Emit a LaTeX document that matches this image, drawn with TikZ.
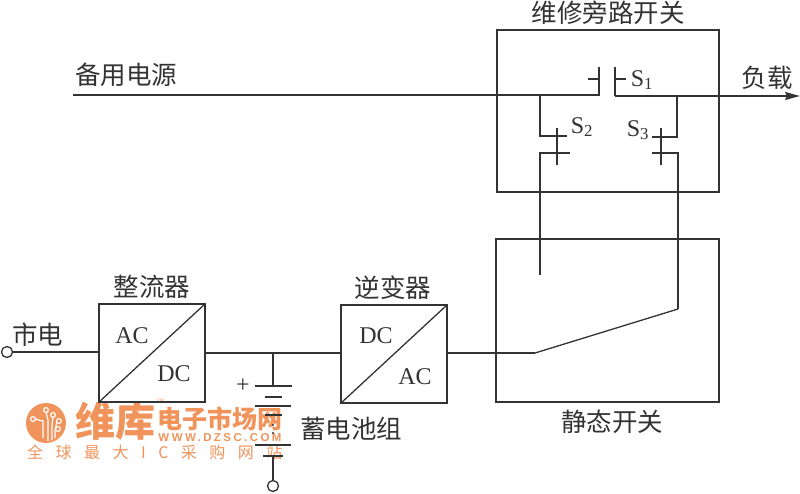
\documentclass[tikz,border=0pt]{standalone}
\usepackage{fontspec}
\setmainfont{Liberation Serif}
\newfontfamily\cjk{Noto Sans CJK SC}
\newfontfamily\cjkmark[LetterSpace=78]{Noto Sans CJK SC}
\newfontfamily\latinmark[LetterSpace=21]{Liberation Sans}
\usetikzlibrary{arrows.meta, positioning, calc}
\definecolor{inkgray}{HTML}{333333}
\definecolor{wmorange}{HTML}{F0945C}

\begin{document}
\begin{tikzpicture}[
  x=1pt, y=-1pt,
  >={Stealth[length=15pt, width=8pt, inset=2pt]},
  wire/.style={draw=inkgray, line width=1.3pt},
  box/.style={draw=inkgray, line width=1.3pt, minimum width=#1, anchor=center, inner sep=0pt},
  conv/.style={box=106pt, minimum height=98pt},
  lbl/.style={font=\cjk\fontsize{25.5}{26}\selectfont, text=inkgray, inner sep=0pt},
  sym/.style={font=\fontsize{24}{24}\selectfont, text=inkgray, inner sep=0pt},
  term/.style={circle, draw=inkgray, line width=1.3pt, fill=white, minimum size=11pt, inner sep=0pt},
  wm/.style={text=wmorange, inner sep=0pt},
  trace/.style={white, line width=1.2pt},
]

% Background canvas
\useasboundingbox (0,0) rectangle (800,493);

% === Watermark (under the drawing) ===
\node[circle, fill=wmorange, minimum size=40pt, inner sep=0pt] (logo) at (46,423) {};
\draw[trace] (35,419) -- (43,421) -- (43,438);
\draw[trace] (46,412) -- (48,420) -- (48,441);
\draw[trace] (53,417) -- (52,425) -- (52,440);
\draw[trace] (57,422) -- (55,430) -- (55,438);
\foreach \px/\py in {33/419, 46/410, 53/415, 59/421, 58/429} {
  \draw[trace, fill=wmorange] (\px,\py) circle (2.4pt);
}
\node[wm, font=\cjk\bfseries\fontsize{40}{40}\selectfont] (wmname) at (115,421) {维库};
\node[wm, font=\cjk\bfseries\fontsize{25}{25}\selectfont] (wmsite) at (220,419) {电子市场网};
\node[wm, font=\latinmark\bfseries\fontsize{11.5}{12}\selectfont] (wmurl) at (220,438) {WWW.DZSC.COM};
\node[wm, font=\cjkmark\fontsize{16}{16}\selectfont, anchor=west] (wmslogan) at (27,452) {全球最大IC采购网站};
\node[wm, font=\fontsize{5}{5}\selectfont] (wmtm) at (160,401) {TM};

% === Boxes ===
\node[box=222pt, minimum height=162pt] (bypass) at (608,111) {};
\node[box=223pt, minimum height=163pt] (static) at (607.5,320.5) {};
\node[conv] (rect) at (152,353) {};
\node[conv] (inv) at (394,354) {};
\draw[wire] (rect.south west) -- (rect.north east);
\draw[wire] (inv.south west) -- (inv.north east);
\node[sym] (rectac) at (132,336) {AC};
\node[sym] (rectdc) at (174,374) {DC};
\node[sym] (invdc) at (376,336) {DC};
\node[sym] (invac) at (415,377) {AC};

% === Labels ===
\node[lbl] (lbbypass) at (608,13) {维修旁路开关};
\node[lbl] (lbspare) at (126,75) {备用电源};
\node[lbl] (lbload) at (767,78) {负载};
\node[lbl] (lbrect) at (152,287) {整流器};
\node[lbl] (lbinv) at (393,288) {逆变器};
\node[lbl] (lbmains) at (38,335) {市电};
\node[lbl] (lbbatt) at (351,429) {蓄电池组};
\node[lbl] (lbstatic) at (612,422) {静态开关};
\node[sym] (lbsone) at (642,80) {S$_{\mathrm{1}}$};
\node[sym] (lbstwo) at (582,127) {S$_{\mathrm{2}}$};
\node[sym] (lbsthree) at (638,130) {S$_{\mathrm{3}}$};
\node[font=\fontsize{24}{24}\selectfont, text=inkgray, inner sep=0pt] (lbplus) at (243,386) {+};

% === Terminals and junctions ===
\node[term] (mains) at (7,352) {};
\node[term] (gnd) at (273,486) {};
\coordinate (spare) at (73,95);
\coordinate (load) at (800,96);
\coordinate (jleft) at (540,95);
\coordinate (jright) at (677,96);
\coordinate (jstatic) at (535,353);
\coordinate (jarm) at (678,309);
\coordinate (jpole) at (540,275);
\coordinate (jbatt) at (273,353);

% === Bypass switch S1 ===
\draw[wire] (spare) -- (599,95) -- (599,67);
\draw[wire] (615,67) -- (615,96);
\draw[wire, ->] (615,96) -- (load);
\draw[wire] (588,79) -- (599,79);
\draw[wire] (615,79) -- (626,79);

% === Switch S2 ===
\draw[wire] (jleft) -- (540,136) -- (567,136);
\draw[wire] (557,128) -- (557,165);
\draw[wire] (570,153) -- (540,153) -- (jpole);

% === Switch S3 ===
\draw[wire] (jright) -- (677,137) -- (652,137);
\draw[wire] (661,128) -- (661,165);
\draw[wire] (652,153) -- (678,153) -- (jarm);

% === Power path ===
\draw[wire] (mains) -- (rect.west |- mains);
\draw[wire] (rect.east |- jbatt) -- (inv.west |- jbatt);
\draw[wire] (inv.east |- jstatic) -- (jstatic);
\draw[wire] (jstatic) -- (jarm);

% === Battery ===
\draw[wire] (jbatt) -- (273,386);
\foreach \py/\pw in {386/18.5, 406/18, 445/18} {
  \draw[wire] (273-\pw,\py) -- (273+\pw,\py);
}
\foreach \py/\pw in {397/8.5, 415/8.5, 456/10} {
  \draw[wire] (273-\pw,\py) -- (273+\pw,\py);
}
\fill[inkgray] (273,425) circle (1.2pt) (273,433) circle (1.2pt);
\draw[wire] (273,456) -- (gnd);

\end{tikzpicture}
\end{document}
